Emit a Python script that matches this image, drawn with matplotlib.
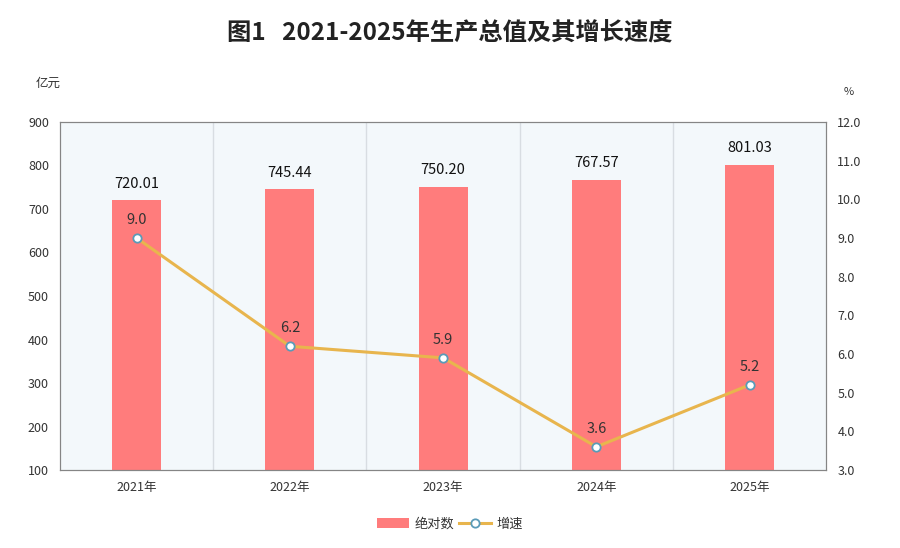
import matplotlib.pyplot as plt
from matplotlib.lines import Line2D
from matplotlib.patches import Patch

plt.rcParams['font.family'] = ['Noto Sans CJK SC', 'DejaVu Sans']

years = ['2021年', '2022年', '2023年', '2024年', '2025年']
values = [720.01, 745.44, 750.20, 767.57, 801.03]
growth = [9.0, 6.2, 5.9, 3.6, 5.2]

bar_color = '#ff7c7c'
line_color = '#e8b54d'
frame_color = '#858585'
text_color = '#333333'

fig = plt.figure(figsize=(9, 5.48), dpi=100)
ax = fig.add_axes([0.0667, 0.1423, 0.8513, 0.6351])
ax.set_facecolor('#f3f8fb')

x = list(range(len(years)))
ax.bar(x, [v - 100 for v in values], bottom=100, width=0.32, color=bar_color, zorder=2)
for xi, v in zip(x, values):
    ax.annotate(f'{v:.2f}', (xi, v), xytext=(0, 7), textcoords='offset points',
                ha='center', va='bottom', fontsize=10.5, color='#111111')

ax.set_xlim(-0.5, len(years) - 0.5)
ax.set_ylim(100, 900)
ax.set_yticks(range(100, 901, 100))
ax.set_xticks(x)
ax.set_xticklabels(years)
for b in [0.5, 1.5, 2.5, 3.5]:
    ax.axvline(b, color='#d8dde2', lw=1, zorder=1)

for s in ax.spines.values():
    s.set_color(frame_color)
ax.tick_params(axis='both', length=0, colors=text_color, labelsize=9)
ax.tick_params(axis='y', pad=8)
ax.tick_params(axis='x', pad=8)

ax2 = ax.twinx()
ax2.plot(x, growth, color=line_color, lw=2.2, marker='o', markersize=6,
         markerfacecolor='white', markeredgecolor='#5a9bb8', markeredgewidth=1.3, zorder=3)
for xi, g in zip(x, growth):
    ax2.annotate(f'{g:.1f}', (xi, g), xytext=(0, 8), textcoords='offset points',
                 ha='center', va='bottom', fontsize=10.5, color='#333333')
ax2.set_ylim(3, 12)
ax2.set_yticks(range(3, 13))
ax2.set_yticklabels([f'{t:.1f}' for t in range(3, 13)])
ax2.tick_params(axis='y', length=0, colors=text_color, labelsize=9, pad=8)
for s in ax2.spines.values():
    s.set_color(frame_color)

fig.text(0.5, 0.94, '图1   2021-2025年生产总值及其增长速度', ha='center', va='center',
         fontsize=17.5, fontweight='bold', color='#222222')
fig.text(0.04, 0.848, '亿元', ha='left', va='center', fontsize=9, color=text_color)
fig.text(0.937, 0.832, '%', ha='left', va='center', fontsize=8, color=text_color)

handles = [Patch(facecolor=bar_color, edgecolor='none'),
           Line2D([0], [0], color=line_color, lw=2.2, marker='o', markersize=6,
                  markerfacecolor='white', markeredgecolor='#5a9bb8', markeredgewidth=1.3)]
fig.legend(handles, ['绝对数', '增速'], loc='center', bbox_to_anchor=(0.5, 0.044), ncol=2,
           frameon=False, fontsize=9.5, handlelength=2.4, handleheight=0.8,
           columnspacing=0.4, handletextpad=0.4, labelcolor=text_color)

fig.savefig('out.png', dpi=100)
